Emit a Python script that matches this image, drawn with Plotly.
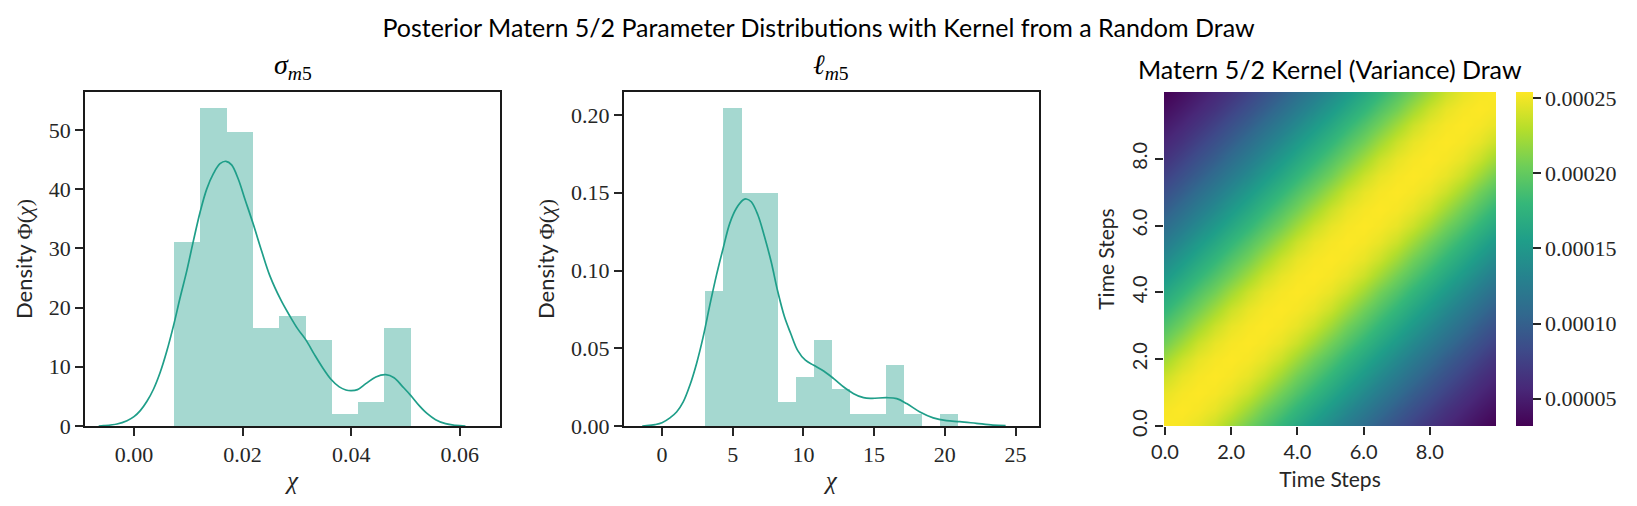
import plotly.graph_objects as go

PAGE_W, PAGE_H, BODY = 1637, 506, 8
W, H = PAGE_W - 2 * BODY, PAGE_H - 2 * BODY
CBAR_L, PLOT_T, PLOT_B = 1516, 92, 426
ML, MR, MT, MB = 85 - BODY, PAGE_W - BODY - CBAR_L, PLOT_T - BODY, PAGE_H - BODY - PLOT_B


def px(x):
    return (x - 85) / (CBAR_L - 85)


def py(y):
    return 1 - (y - PLOT_T) / (PLOT_B - PLOT_T)


TEAL = "#1f9e89"
FILL = "rgba(31,158,137,0.4)"
DARK = "#262626"
SERIF = "Liberation Serif"
SANS = "Lato"

sigma_edges = [0.00736, 0.01221, 0.01705, 0.0219, 0.02674, 0.03159, 0.03644, 0.04128, 0.04613, 0.05097]
sigma_heights = [31.15, 53.75, 49.7, 16.6, 18.6, 14.5, 2.05, 4.1, 16.6]
sigma_kde_x = [-0.0065, -0.00557, -0.00312, -0.00128, 0.0, 0.00116, 0.00239, 0.00361, 0.00483, 0.00606, 0.00728,
               0.0085, 0.00972, 0.01095, 0.01217, 0.01339, 0.01462, 0.01584, 0.01694, 0.01798, 0.0192, 0.02043,
               0.02196, 0.02349, 0.02501, 0.02709, 0.02862, 0.03015, 0.03168, 0.03321, 0.03474, 0.03627, 0.0378,
               0.03902, 0.04, 0.04116, 0.04269, 0.04453, 0.04636, 0.04789, 0.04942, 0.05095, 0.05248, 0.05401,
               0.05554, 0.05737, 0.0592, 0.06104]
sigma_kde_y = [0.0, 0.05, 0.34, 0.9, 1.58, 2.6, 4.17, 6.25, 9.07, 12.7, 16.95,
               21.7, 26.2, 31.3, 36.1, 40.0, 42.6, 44.3, 44.7, 44.1, 41.7, 38.3,
               34.1, 29.6, 25.4, 21.2, 18.7, 16.4, 14.5, 12.1, 9.85, 7.9, 6.6,
               6.08, 5.97, 6.14, 7.15, 8.28, 8.67, 8.16, 6.7, 5.18, 3.49, 2.08,
               1.07, 0.39, 0.11, 0.0]

ell_edges = [3.04, 4.32, 5.60, 6.87, 8.15, 9.43, 10.71, 11.99, 13.26, 14.54, 15.82, 17.10, 18.38, 19.65, 20.93]
ell_heights = [0.0867, 0.2045, 0.1498, 0.1498, 0.0152, 0.0313, 0.0552, 0.0236, 0.0075, 0.0075, 0.039, 0.0075, 0.0, 0.0075]
ell_kde_x = [-1.4, -1.08, -0.49, 0.0, 0.56, 1.03, 1.5, 1.97, 2.44, 2.91, 3.38, 3.85, 4.32, 4.79, 5.26, 5.73, 5.96,
             6.31, 6.78, 7.25, 7.72, 8.19, 8.66, 9.1, 9.6, 10.14, 10.73, 11.43, 12.14, 12.85, 13.55, 14.25, 14.84,
             15.89, 16.6, 17.3, 18.24, 19.18, 20.12, 21.06, 22.23, 23.4, 24.3]
ell_kde_y = [0.0, 0.0002, 0.0009, 0.0021, 0.0052, 0.009, 0.0155, 0.0262, 0.0401, 0.0573, 0.0777, 0.097, 0.1142,
             0.1303, 0.14, 0.1453, 0.146, 0.1442, 0.1357, 0.1217, 0.1056, 0.0863, 0.0702, 0.0595, 0.0485, 0.0423,
             0.0391, 0.0354, 0.0305, 0.0251, 0.0208, 0.0182, 0.0178, 0.0182, 0.0176, 0.0144, 0.009, 0.0052,
             0.0034, 0.0028, 0.0017, 0.0006, 0.0002]

time_steps = [0.0, 0.5, 1.0, 1.5, 2.0, 2.5, 3.0, 3.5, 4.0, 4.5, 5.0, 5.5, 6.0, 6.5, 7.0, 7.5, 8.0, 8.5, 9.0, 9.5, 10.0]
kernel_by_lag = [2.54e-4, 2.52e-4, 2.47e-4, 2.37e-4, 2.22e-4, 2.06e-4, 1.92e-4, 1.78e-4, 1.64e-4, 1.51e-4, 1.37e-4,
                 1.24e-4, 1.11e-4, 0.98e-4, 0.87e-4, 0.76e-4, 0.65e-4, 0.56e-4, 0.48e-4, 0.40e-4, 0.32e-4]
colorbar_ticks = [5e-5, 1e-4, 1.5e-4, 2e-4, 2.5e-4]
colorbar_labels = ["0.00005", "0.00010", "0.00015", "0.00020", "0.00025"]
heat_ticks = [0, 2, 4, 6, 8]
heat_labels = ["0.0", "2.0", "4.0", "6.0", "8.0"]

TITLE = "Posterior Matern 5/2 Parameter Distributions with Kernel from a Random Draw"
DENSITY = f'<span style="font-family:{SANS}">Density </span>Φ(<i>χ</i>)'


def bars(edges, heights, xa, ya):
    centers = [(a + b) / 2 for a, b in zip(edges[:-1], edges[1:])]
    widths = [b - a for a, b in zip(edges[:-1], edges[1:])]
    return go.Bar(x=centers, y=heights, width=widths, marker=dict(color=FILL, line=dict(width=0)),
                  xaxis=xa, yaxis=ya, showlegend=False)


def line(x, y, xa, ya):
    return go.Scatter(x=x, y=y, mode="lines", line=dict(color=TEAL, width=1.7, shape="spline", smoothing=1.0),
                      xaxis=xa, yaxis=ya, showlegend=False)


z = [[kernel_by_lag[abs(i - j)] for i in range(len(time_steps))] for j in range(len(time_steps))]

fig = go.Figure([
    bars(sigma_edges, sigma_heights, "x", "y"),
    line(sigma_kde_x, sigma_kde_y, "x", "y"),
    bars(ell_edges, ell_heights, "x2", "y2"),
    line(ell_kde_x, ell_kde_y, "x2", "y2"),
    go.Heatmap(x=time_steps, y=time_steps, z=z, colorscale="Viridis", zmin=3.18e-5, zmax=2.542e-4, zsmooth="best",
               xaxis="x3", yaxis="y3",
               colorbar=dict(x=1, xanchor="left", xpad=0, y=0.5, yanchor="middle", ypad=0,
                             lenmode="fraction", len=1, thickness=17, thicknessmode="pixels", outlinewidth=0,
                             tickmode="array", tickvals=colorbar_ticks, ticktext=colorbar_labels,
                             ticks="outside", ticklen=8, tickwidth=1.6, tickcolor=DARK,
                             tickfont=dict(family=SERIF, size=22, color=DARK))),
])

frame = dict(showline=True, linecolor="#1a1a1a", linewidth=1.7, mirror=True, ticks="outside", ticklen=8, tickwidth=1.6,
             tickcolor=DARK, showgrid=False, zeroline=False, tickfont=dict(family=SERIF, size=22, color=DARK))

fig.update_layout(
    width=W, height=H, margin=dict(l=ML, r=MR, t=MT, b=MB, autoexpand=False), paper_bgcolor="white", plot_bgcolor="white",
    barmode="overlay", bargap=0,
    title=dict(text=TITLE, x=0.5, xanchor="center", y=1 - 20 / H, yanchor="middle",
               font=dict(family=SANS, size=25, color="black")),
    xaxis=dict(frame, domain=[px(85), px(500)], range=[-0.00902, 0.0674], anchor="y",
               tickvals=[0, 0.02, 0.04, 0.06], ticktext=["0.00", "0.02", "0.04", "0.06"],
               title=dict(text="<i>χ</i>", font=dict(family=SERIF, size=25, color=DARK), standoff=5)),
    yaxis=dict(frame, domain=[0, 1], range=[0, 56.4], anchor="x",
               tickvals=[0, 10, 20, 30, 40, 50],
               title=dict(text=DENSITY, font=dict(family=SERIF, size=22, color=DARK), standoff=10)),
    xaxis2=dict(frame, domain=[px(623.7), px(1039)], range=[-2.71, 26.66], anchor="y2",
                tickvals=[0, 5, 10, 15, 20, 25],
                title=dict(text="<i>χ</i>", font=dict(family=SERIF, size=25, color=DARK), standoff=5)),
    yaxis2=dict(frame, domain=[0, 1], range=[0, 0.2148], anchor="x2",
                tickvals=[0, 0.05, 0.1, 0.15, 0.2], ticktext=["0.00", "0.05", "0.10", "0.15", "0.20"],
                title=dict(text=DENSITY, font=dict(family=SERIF, size=22, color=DARK), standoff=10)),
    xaxis3=dict(domain=[px(1164), px(1496)], range=[-0.03, 10], anchor="y3", showgrid=False, zeroline=False,
                ticks="outside", ticklen=8, tickwidth=1.6, tickcolor=DARK, tickvals=heat_ticks, ticktext=heat_labels,
                tickfont=dict(family=SANS, size=20, color=DARK),
                title=dict(text="Time Steps", font=dict(family=SANS, size=21, color=DARK), standoff=10)),
    yaxis3=dict(domain=[0, 1], range=[0, 10], anchor="x3", showgrid=False, zeroline=False,
                ticks="outside", ticklen=8, tickwidth=1.6, tickcolor=DARK, tickvals=heat_ticks, ticktext=heat_labels,
                tickangle=-90, tickfont=dict(family=SANS, size=20, color=DARK),
                title=dict(text="Time Steps", font=dict(family=SANS, size=21, color=DARK), standoff=6)),
    annotations=[
        dict(text="<i>σ</i><sub><i>m</i>5</sub>", x=px(292.5), y=py(67), xref="paper", yref="paper", showarrow=False,
             xanchor="center", yanchor="middle", font=dict(family=SERIF, size=28, color="black")),
        dict(text="<i>ℓ</i><sub><i>m</i>5</sub>", x=px(831), y=py(67), xref="paper", yref="paper", showarrow=False,
             xanchor="center", yanchor="middle", font=dict(family=SERIF, size=28, color="black")),
        dict(text="Matern 5/2 Kernel (Variance) Draw", x=px(1330), y=py(69), xref="paper", yref="paper",
             xanchor="center", yanchor="middle", showarrow=False, font=dict(family=SANS, size=25, color="black")),
    ],
)

fig.write_html("out.html")
